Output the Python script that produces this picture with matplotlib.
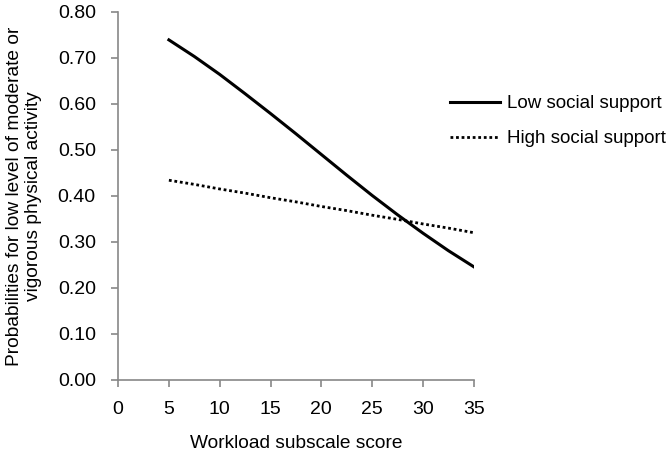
import matplotlib
matplotlib.use("Agg")
import matplotlib.pyplot as plt

plt.rcParams['font.family'] = ['Liberation Sans', 'DejaVu Sans']

x_vals = [5, 7.5, 10, 12.5, 15, 17.5, 20, 22.5, 25, 27.5, 30, 32.5, 35]
low_support = [0.739, 0.703, 0.664, 0.622, 0.579, 0.535, 0.490, 0.445, 0.401, 0.359, 0.319, 0.281, 0.246]
high_support = [0.434, 0.425, 0.415, 0.406, 0.396, 0.387, 0.377, 0.368, 0.358, 0.349, 0.339, 0.330, 0.320]
x_ticks = [0, 5, 10, 15, 20, 25, 30, 35]
y_ticks = [0.0, 0.1, 0.2, 0.3, 0.4, 0.5, 0.6, 0.7, 0.8]

fig = plt.figure(figsize=(6.71, 4.55), dpi=100)
ax = fig.add_axes([0.176, 0.165, 0.530, 0.809])

ax.plot(x_vals, low_support, color='black', lw=2.2, label='Low social support')
ax.plot(x_vals, high_support, color='black', lw=2.0, linestyle=(0, (1, 1)), label='High social support')

ax.set_xlim(0, 35)
ax.set_ylim(0, 0.80)
ax.set_xticks(x_ticks)
ax.set_yticks(y_ticks)
ax.set_yticklabels([f"{v:.2f}" for v in y_ticks])
for s in ['top', 'right']:
    ax.spines[s].set_visible(False)
for s in ['left', 'bottom']:
    ax.spines[s].set_color('#888888')
    ax.spines[s].set_linewidth(1.2)
ax.tick_params(axis='both', colors='#888888', labelcolor='black', labelsize=14, length=5, width=1.2, direction='out')
ax.tick_params(axis='x', pad=10.5)
ax.tick_params(axis='y', pad=11)

ax.set_xlabel('Workload subscale score', fontsize=13.8, labelpad=12)
ax.set_ylabel('Probabilities for low level of moderate or\nvigorous physical activity', fontsize=13.8, labelpad=11,
              linespacing=1.2)

leg = fig.legend(loc='upper left', bbox_to_anchor=(450 / 671, 1 - 95 / 455), bbox_transform=fig.transFigure,
                 frameon=False, fontsize=13.5, borderpad=0, borderaxespad=0,
                 handlelength=2.67, handletextpad=0.37, labelspacing=0.95)

fig.savefig('out.png', dpi=100)
